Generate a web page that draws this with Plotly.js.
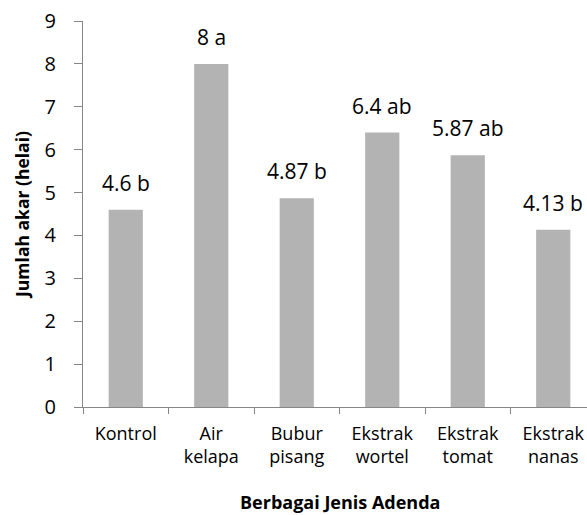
<!DOCTYPE html>
<html>
<head>
<meta charset="utf-8">
<script src="https://cdn.plot.ly/plotly-3.0.1.min.js"></script>
<style>
html,body{margin:0;padding:0;overflow:hidden;background:#fff;}
#chart{width:600px;height:515px;}
</style>
</head>
<body>
<div id="chart"></div>
<script>
const categories = ["Kontrol", "Air<br>kelapa", "Bubur<br>pisang", "Ekstrak<br>wortel", "Ekstrak<br>tomat", "Ekstrak<br>nanas"];
const values = [4.6, 8, 4.87, 6.4, 5.87, 4.13];
const letters = ["b", "a", "b", "ab", "ab", "b"];
const yTicks = [0, 1, 2, 3, 4, 5, 6, 7, 8, 9];
const xTitle = "Berbagai Jenis Adenda";
const yTitle = "Jumlah akar (helai)";

const FONT = "Open Sans, Noto Sans, sans-serif";
const AXIS = "#868686";

const trace = {
  type: "bar",
  x: categories,
  y: values,
  marker: {color: "#B3B3B3", line: {width: 0}},
  hoverinfo: "skip"
};

const annotations = values.map((v, i) => ({
  x: categories[i],
  y: v,
  xref: "x",
  yref: "y",
  text: v + " " + letters[i],
  showarrow: false,
  yanchor: "bottom",
  yshift: 11,
  font: {family: FONT, size: 21, color: "#000"}
}));

annotations.push({
  x: 0.5,
  y: -0.247,
  xref: "paper",
  yref: "paper",
  text: "<b>" + xTitle + "</b>",
  showarrow: false,
  xanchor: "center",
  yanchor: "middle",
  font: {family: FONT, size: 18, color: "#000"}
});

const layout = {
  width: 600,
  height: 515,
  margin: {l: 83, r: 4, t: 21, b: 108},
  paper_bgcolor: "#fff",
  plot_bgcolor: "#fff",
  bargap: 0.6,
  showlegend: false,
  font: {family: FONT, color: "#000"},
  xaxis: {
    type: "category",
    range: [-0.5, 5.5],
    showline: true,
    linecolor: AXIS,
    linewidth: 1,
    ticks: "outside",
    tickson: "boundaries",
    ticklen: 6,
    tickcolor: AXIS,
    showgrid: false,
    zeroline: false,
    ticklabelstandoff: 10,
    tickfont: {family: FONT, size: 18, color: "#000"}
  },
  yaxis: {
    range: [0, 9],
    tickvals: yTicks,
    ticktext: yTicks.map(String),
    showline: true,
    linecolor: AXIS,
    linewidth: 1,
    ticks: "outside",
    ticklen: 8,
    tickcolor: AXIS,
    showgrid: false,
    zeroline: false,
    ticklabelstandoff: 14,
    tickfont: {family: FONT, size: 20, color: "#000"},
    title: {text: "<b>" + yTitle + "</b>", font: {family: FONT, size: 17.5, color: "#000"}, standoff: 10}
  },
  annotations: annotations
};

Plotly.newPlot("chart", [trace], layout, {displayModeBar: false, staticPlot: true});
</script>
</body>
</html>
